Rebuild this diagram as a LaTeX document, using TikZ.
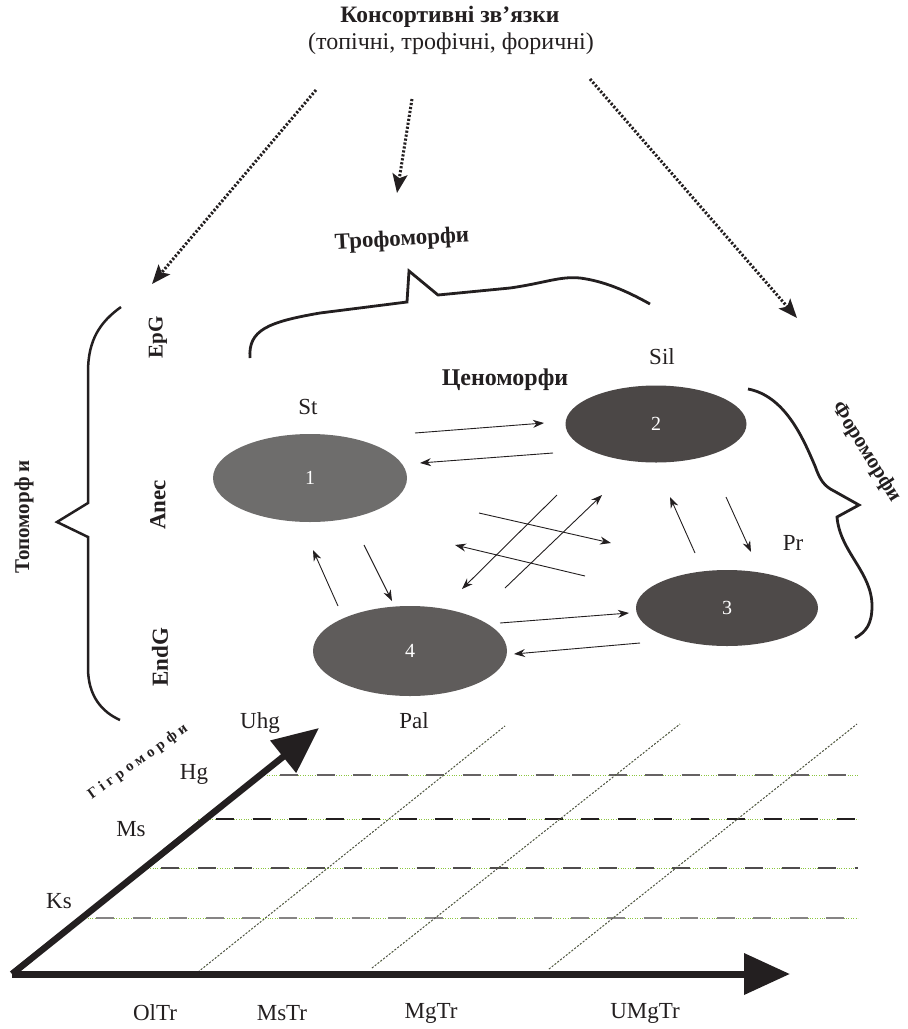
\documentclass[tikz,border=0pt]{standalone}
\usepackage{fontspec}
\setmainfont{Liberation Serif}
\newfontfamily\spacedfont[LetterSpace=28]{Liberation Serif}
\usetikzlibrary{arrows.meta,shapes.geometric}

\definecolor{ink}{HTML}{231F20}
\definecolor{blobone}{HTML}{6E6D6C}
\definecolor{blobtwo}{HTML}{4B4746}
\definecolor{blobthree}{HTML}{4E4A49}
\definecolor{blobfour}{HTML}{5F5C5B}
\definecolor{gridgreen}{HTML}{8CC63F}

\tikzset{
  blob/.style={ellipse, inner sep=0pt, text=white,
    font=\fontsize{20}{24}\selectfont},
  lbl/.style={inner sep=0pt, text=ink, font=\fontsize{23}{27}\selectfont},
  boldlbl/.style={inner sep=0pt, text=ink, font=\fontsize{23}{27}\selectfont\bfseries},
  link/.style={draw=ink, line width=0.9pt, -{Stealth[length=11pt,width=8pt]}},
  consort/.style={draw=ink, line width=3pt, dash pattern=on 2.2pt off 1.8pt,
    -{Stealth[length=19pt,width=15pt,inset=4pt]}},
  bracket/.style={draw=ink, line width=2.8pt, line join=miter, line cap=butt},
  axis/.style={draw=ink, line width=6.5pt,
    -{Triangle[length=46pt,width=40pt]}},
  levelgreen/.style={draw=gridgreen, line width=1pt, dash pattern=on 1pt off 1.4pt},
  leveldash/.style={line width=1.4pt, dash pattern=on 18pt off 18.5pt},
  slantdash/.style={draw=ink!80, line width=0.9pt, dash pattern=on 2pt off 1.6pt},
  slantgreen/.style={draw=gridgreen, line width=0.9pt, dash pattern=on 1pt off 2.6pt}
}

\begin{document}
\begin{tikzpicture}[x=1pt,y=-1pt]
\useasboundingbox (0,0) rectangle (908,1029);

% heading
\node[inner sep=0pt, text=ink, font=\fontsize{23.5}{27}\selectfont\bfseries]
  (title) at (450,17) {Консортивні зв’язки};
\node[inner sep=0pt, text=ink, font=\fontsize{24}{28}\selectfont]
  (subtitle) at (451,44) {(топічні, трофічні, форичні)};

% consortive links: dotted arrows
\coordinate (cL0) at (316,90);  \coordinate (cL1) at (152,284);
\coordinate (cM0) at (412,99);  \coordinate (cM1) at (397,193);
\coordinate (cR0) at (590,79);  \coordinate (cR1) at (797,318);
\draw[consort] (cL0) -- (cL1);
\draw[consort] (cM0) -- (cM1);
\draw[consort] (cR0) -- (cR1);

% trophomorph bracket
\node[boldlbl, rotate=3] (troph) at (402,240) {Трофоморфи};
\draw[bracket] (250,358) .. controls (248,330) and (268,322) .. (320,313)
  -- (407,302) -- (409,271) -- (438,295) -- (510,288)
  .. controls (545,283) and (560,276) .. (580,278)
  .. controls (603,281) and (625,290) .. (650,304);

% topomorph bracket
\node[boldlbl, font=\fontsize{21}{25}\selectfont\bfseries, rotate=90] (topo) at (24,517) {Топоморф и};
\draw[bracket, line width=2.5pt] (121,307) .. controls (100,322) and (88,340) .. (88,372)
  -- (88,503) -- (57,522) -- (88,537) -- (88,668)
  .. controls (88,696) and (102,712) .. (120,720);
\node[boldlbl, font=\fontsize{21}{25}\selectfont\bfseries, rotate=90] (epg) at (158,337) {EpG};
\node[boldlbl, rotate=90] (anec) at (158,505) {Anec};
\node[boldlbl, rotate=90] (endg) at (160,657) {EndG};

% phoromorph bracket
\node[boldlbl, font=\fontsize{21}{25}\selectfont\bfseries, rotate=-58] (phoro) at (866,452) {Фороморфи};
\draw[bracket] (748,389) .. controls (785,396) and (803,438) .. (815,466)
  .. controls (820,480) and (824,486) .. (834,491)
  -- (859,505) -- (837,517)
  .. controls (840,552) and (872,572) .. (872,606)
  .. controls (872,624) and (866,632) .. (855,638);

% coenomorphs
\node[boldlbl, font=\fontsize{24}{28}\selectfont\bfseries] (ceno) at (505,380) {Ценоморфи};
\node[blob, fill=blobone, minimum width=194pt, minimum height=88pt] (e1) at (310,478) {1};
\node[blob, fill=blobtwo, minimum width=181pt, minimum height=77pt] (e2) at (656,424) {2};
\node[blob, fill=blobthree, minimum width=182pt, minimum height=76pt] (e3) at (727,608) {3};
\node[blob, fill=blobfour, minimum width=194pt, minimum height=90pt] (e4) at (410,651) {4};
\node[lbl] (st) at (308,407) {St};
\node[lbl] (sil) at (662,357) {Sil};
\node[lbl] (pr) at (793,543) {Pr};
\node[lbl] (pal) at (414,721) {Pal};

% links between coenomorphs
\coordinate (a12s) at (415,433); \coordinate (a12e) at (544,423);
\coordinate (a21s) at (553,453); \coordinate (a21e) at (420,463);
\coordinate (a41s) at (338,606); \coordinate (a41e) at (313,550);
\coordinate (a14s) at (364,545); \coordinate (a14e) at (392,601);
\coordinate (a43s) at (500,623); \coordinate (a43e) at (629,613);
\coordinate (a34s) at (640,643); \coordinate (a34e) at (514,654);
\coordinate (a32s) at (695,553); \coordinate (a32e) at (670,497);
\coordinate (a23s) at (726,497); \coordinate (a23e) at (751,552);
\coordinate (x1s) at (479,513); \coordinate (x1e) at (611,543);
\coordinate (x2s) at (585,576); \coordinate (x2e) at (455,545);
\coordinate (x3s) at (557,495); \coordinate (x3e) at (462,589);
\coordinate (x4s) at (505,588); \coordinate (x4e) at (602,495);
\foreach \a in {a12,a21,a41,a14,a43,a34,a32,a23,x1,x2,x3,x4}
  \draw[link] (\a s) -- (\a e);

% hygromorph levels
\foreach \xs/\yy/\col in {262/775/ink!70, 198/819/ink, 143/868/ink!80, 78/918/ink!55}{
  \draw[levelgreen] (\xs,\yy) -- (858,\yy);
  \draw[leveldash, draw=\col] (\xs+18,\yy) -- (858,\yy);
}

% trophic gradient lines
\foreach \xa/\ya/\xb/\yb in {198/972/505/726, 372/968/680/724, 549/969/857/724}{
  \draw[slantgreen] (\xa,\ya) -- (\xb,\yb);
  \draw[slantdash] (\xa,\ya) -- (\xb,\yb);
}

% axes
\coordinate (O) at (12,974);
\coordinate (yEnd) at (319,728);
\coordinate (xEnd) at (790,974);
\draw[axis] (O) -- (yEnd);
\draw[axis, line width=7pt] (O) -- (xEnd);

\node[inner sep=0pt, text=ink, rotate=35.5, font=\fontsize{15}{17}\selectfont\spacedfont\bfseries]
  (hygro) at (138,762) {Гігроморфи};
\node[lbl] (uhg) at (260,723) {Uhg};
\node[lbl] (hg) at (194,774) {Hg};
\node[lbl] (ms) at (131,829) {Ms};
\node[lbl] (ks) at (59,901) {Ks};
\node[lbl] (oltr) at (155,1013) {OlTr};
\node[lbl] (mstr) at (282,1013) {MsTr};
\node[lbl] (mgtr) at (431,1013) {MgTr};
\node[lbl] (umgtr) at (645,1013) {UMgTr};
\end{tikzpicture}
\end{document}
